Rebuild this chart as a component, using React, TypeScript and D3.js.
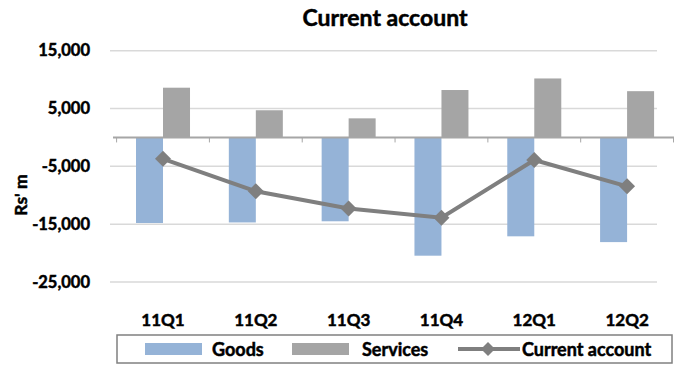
import React from "react";
import * as d3 from "d3";

const categories = ["11Q1", "11Q2", "11Q3", "11Q4", "12Q1", "12Q2"];
const goods = [-14800, -14700, -14500, -20450, -17100, -18100];
const services = [8600, 4700, 3300, 8200, 10200, 8000];
const currentAccount = [-3700, -9300, -12300, -13900, -3900, -8450];
const yTicks = [15000, 5000, -5000, -15000, -25000];

const W = 680;
const H = 365;
const FONT = "Lato, 'Open Sans', sans-serif";

export default function App() {
  const x = d3.scaleBand<string>().domain(categories).range([116.6, 673.5]).paddingInner(0).paddingOuter(0);
  const y = d3.scaleLinear().domain([-25000, 15000]).range([282, 50.7]);
  const bw = 27;
  const cx = (c: string) => (x(c) as number) + x.bandwidth() / 2;
  const fmt = (v: number) => d3.format(",")(v).replace("\u2212", "-");
  const line = d3
    .line<number>()
    .x((_, i) => cx(categories[i]))
    .y((d) => y(d));
  const diamond = (px: number, py: number, r: number) =>
    `M${px},${py - r}L${px + r},${py}L${px},${py + r}L${px - r},${py}Z`;
  const txt = { fontFamily: FONT, fontWeight: "bold" as const, fill: "#000", stroke: "#000", strokeWidth: 0.5 };

  return (
    <svg width={W} height={H} style={{ position: "absolute", left: 0, top: 0, background: "#fff" }}>
      <rect x={0} y={0} width={W} height={H} fill="#fff" />
      <text x={385} y={26} textAnchor="middle" fontSize={23} {...txt}>
        Current account
      </text>
      {yTicks.map((t) => (
        <g key={t}>
          <line x1={110} x2={657} y1={y(t)} y2={y(t)} stroke="#d9d9d9" strokeWidth={1.5} />
          <text x={90} y={y(t)} dy="0.35em" textAnchor="end" fontSize={16.5} {...txt}>
            {fmt(t)}
          </text>
        </g>
      ))}
      <text transform={`translate(21,195) rotate(-90)`} textAnchor="middle" dy="0.35em" fontSize={17.5} {...txt}>
        Rs' m
      </text>
      {categories.map((c, i) => (
        <g key={c}>
          <rect x={cx(c) - bw} y={y(0)} width={bw} height={y(goods[i]) - y(0)} fill="#95b3d7" />
          <rect x={cx(c)} y={y(services[i])} width={bw} height={y(0) - y(services[i])} fill="#a5a5a5" />
          <text x={cx(c)} y={320} dy="0.35em" textAnchor="middle" fontSize={17} {...txt}>
            {c}
          </text>
        </g>
      ))}
      <line x1={113} x2={674} y1={y(0)} y2={y(0)} stroke="#a6a6a6" strokeWidth={2} />
      {[...categories.map((c) => x(c) as number), 673.5].map((t, i) => (
        <line key={i} x1={t} x2={t} y1={y(0)} y2={y(0) + 5} stroke="#a6a6a6" strokeWidth={1} />
      ))}
      <path d={line(currentAccount) || ""} fill="none" stroke="#7f7f7f" strokeWidth={4} />
      {currentAccount.map((v, i) => (
        <path key={i} d={diamond(cx(categories[i]), y(v), 8)} fill="#7f7f7f" />
      ))}
      <g>
        <rect x={117} y={335} width={555} height={28} fill="#fff" stroke="#808080" strokeWidth={1.5} />
        <rect x={145} y={343} width={57} height={12} fill="#95b3d7" />
        <text x={212} y={350} dy="0.35em" fontSize={18} {...txt}>
          Goods
        </text>
        <rect x={292} y={343} width={57} height={12} fill="#a5a5a5" />
        <text x={362} y={350} dy="0.35em" fontSize={18} {...txt}>
          Services
        </text>
        <line x1={458} x2={520} y1={349} y2={349} stroke="#7f7f7f" strokeWidth={4} />
        <path d={diamond(488, 349, 7)} fill="#7f7f7f" />
        <text x={522} y={350} dy="0.35em" fontSize={18} {...txt}>
          Current account
        </text>
      </g>
    </svg>
  );
}
